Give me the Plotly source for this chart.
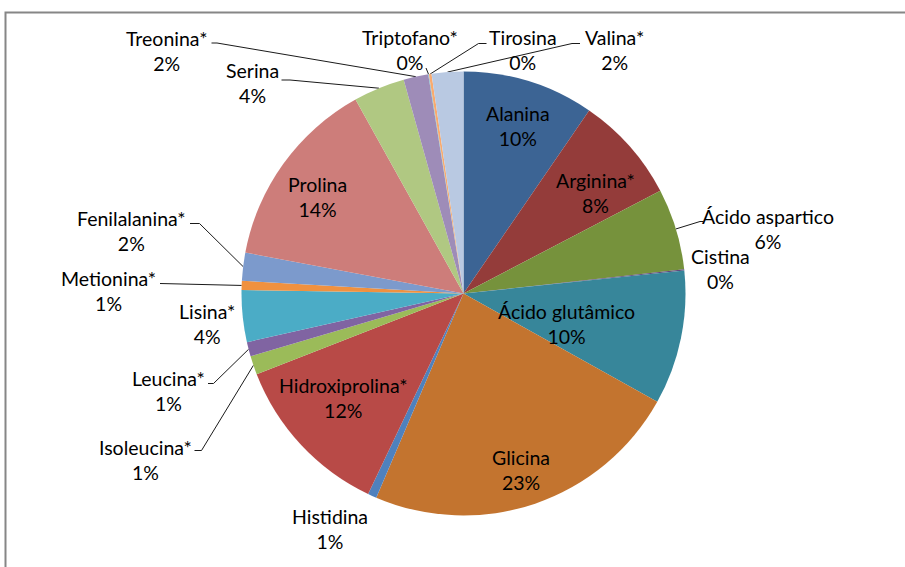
import math
import plotly.graph_objects as go

# ---- data ----
amino_acids = ["Alanina", "Arginina*", "Ácido aspartico", "Cistina", "Ácido glutâmico",
               "Glicina", "Histidina", "Hidroxiprolina*", "Isoleucina*", "Leucina*",
               "Lisina*", "Metionina*", "Fenilalanina*", "Prolina", "Serina",
               "Treonina*", "Triptofano*", "Tirosina", "Valina*"]
values = [9.57, 7.76, 5.92, 0.08, 9.76,
          23.30, 0.64, 12.00, 1.36, 1.04,
          3.76, 0.67, 2.04, 13.95, 3.74,
          1.80, 0.05, 0.19, 2.30]

colors = ["#3C6494", "#943C3A", "#76923C", "#604A7B", "#37869A",
          "#C3742F", "#4F81BD", "#B84A47", "#9BBB59", "#8064A2",
          "#4BACC6", "#F0913F", "#7C9ACC", "#CD7D7A", "#B0C882",
          "#9E8CB8", "#7CC0D4", "#F9AA6E", "#B9C9E2"]

# ---- layout (pixel geometry) ----
W, H = 905, 567
CX, CY, R = 463.5, 293.5, 222.0

# label text-block centres (pixels)
label_pos = {
    "Alanina": (518, 125.5), "Arginina*": (595, 193), "Ácido aspartico": (768, 229),
    "Cistina": (720, 268.5), "Ácido glutâmico": (566, 324), "Glicina": (521, 470),
    "Histidina": (330, 528.5), "Hidroxiprolina*": (343, 397.5), "Isoleucina*": (145, 459.5),
    "Leucina*": (168, 391), "Lisina*": (207, 323.5), "Metionina*": (108, 290.5),
    "Fenilalanina*": (131, 230.5), "Prolina": (317, 197), "Serina": (252, 82.5),
    "Treonina*": (166, 50.5), "Triptofano*": (410, 50), "Tirosina": (523, 50), "Valina*": (614, 50),
}
# label-side points of leader lines
leader_start = {
    "Treonina*": [(211.5, 43), (217, 43)],
    "Serina": [(281.5, 80), (290, 80)],
    "Triptofano*": [(426, 68)],
    "Tirosina": [(486.5, 43.5), (478.5, 43.5)],
    "Valina*": [(580, 43.5), (572, 43.5)],
    "Ácido aspartico": [(703.5, 221.5), (700, 221.5)],
    "Fenilalanina*": [(190, 223.5), (199.5, 223.5)],
    "Metionina*": [(160, 283.5)],
    "Leucina*": [(208, 383.5), (213.5, 383.5)],
    "Isoleucina*": [(194.5, 450.5), (201.5, 450.5)],
}

total = sum(values)
fig = go.Figure()
fig.add_trace(go.Pie(
    labels=amino_acids, values=values, sort=False, direction="clockwise", rotation=0,
    marker=dict(colors=colors, line=dict(width=0)),
    textinfo="none", hoverinfo="skip", showlegend=False,
    domain=dict(x=[(CX - R) / W, (CX + R) / W], y=[(H - CY - R) / H, (H - CY + R) / H]),
))

# leader lines, ending at slice outer edge at mid-angle
cum = 0.0
lx, ly = [], []
for name, v in zip(amino_acids, values):
    mid = (cum + v / 2) / total * 2 * math.pi
    cum += v
    if name in leader_start:
        tip = (CX + R * math.sin(mid), CY - R * math.cos(mid))
        pts = leader_start[name] + [tip]
        lx += [p[0] for p in pts] + [None]
        ly += [p[1] for p in pts] + [None]
fig.add_trace(go.Scatter(x=lx, y=ly, mode="lines", line=dict(color="#1a1a1a", width=1),
                         hoverinfo="skip", showlegend=False))

for name, v in zip(amino_acids, values):
    pct = round(v / total * 100)
    x, y = label_pos[name]
    fig.add_annotation(x=x, y=y, xref="x", yref="y", text=f"{name}<br>{pct}%",
                       showarrow=False, align="center",
                       font=dict(family="Lato", size=19.5, color="#000000"))

fig.add_shape(type="rect", xref="x", yref="y", x0=5.5, y0=12.5, x1=W + 20, y1=H + 20,
              line=dict(color="#868686", width=2), fillcolor="rgba(0,0,0,0)", layer="above")

fig.update_layout(
    width=W, height=H, margin=dict(l=0, r=0, t=0, b=0),
    paper_bgcolor="white", plot_bgcolor="rgba(0,0,0,0)",
    xaxis=dict(range=[0, W], visible=False, fixedrange=True),
    yaxis=dict(range=[H, 0], visible=False, fixedrange=True),
)
fig.write_html("out.html", config={"displayModeBar": False},
               post_script="document.body.style.margin='0px';document.body.style.overflow='hidden';")
